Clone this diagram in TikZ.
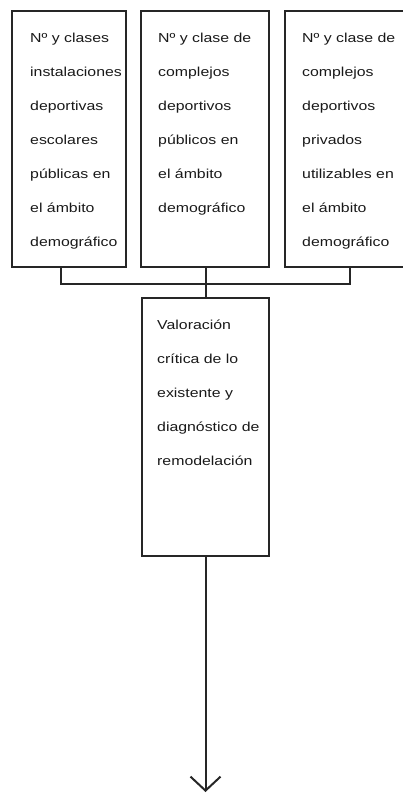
\documentclass[tikz,border=0pt]{standalone}
\usepackage{fontspec}
\setmainfont{Liberation Sans}
\newfontfamily\boxfont[FakeStretch=1.22]{Liberation Sans}
\usetikzlibrary{arrows.meta}
\begin{document}
\begin{tikzpicture}[x=1pt,y=1pt,
  frame/.style={draw=black!85, line width=2pt, rectangle, inner sep=0pt},
  txt/.style={anchor=north west, align=left, inner sep=0pt,
    font=\boxfont\fontsize{13}{34}\selectfont, text=black!90},
  wire/.style={draw=black!85, line width=2pt}]
\useasboundingbox (0,0) rectangle (403,-794);
\begin{scope}
\clip (0,0) rectangle (403,-794);
% source boxes
\node[frame, minimum width=114, minimum height=256] (b1) at (69,-139) {};
\node[frame, minimum width=128, minimum height=256] (b2) at (205,-139) {};
\node[frame, minimum width=128, minimum height=256] (b3) at (349,-139) {};
% assessment box
\node[frame, minimum width=127, minimum height=258] (b4) at (205.5,-427) {};
\end{scope}
% texts
\node[txt] (t1) at (30,-33) {Nº y clases\\instalaciones\\deportivas\\escolares\\públicas en\\el ámbito\\demográfico};
\node[txt] (t2) at (158,-33) {Nº y clase de\\complejos\\deportivos\\públicos en\\el ámbito\\demográfico};
\node[txt] (t3) at (302,-33) {Nº y clase de\\complejos\\deportivos\\privados\\utilizables en\\el ámbito\\demográfico};
\node[txt] (t4) at (157,-320) {Valoración\\crítica de lo\\existente y\\diagnóstico de\\remodelación};
% connectors
\coordinate (j1) at (61,-284);
\coordinate (j3) at (350,-284);
\coordinate (jc) at (205.5,-284);
\draw[wire] (b1.south -| j1) -- (j1) -- (j3) -- (b3.south -| j3);
\draw[wire] (b2.south -| jc) -- (b4.north);
\coordinate (end) at (205.5,-792);
\draw[wire, -{Straight Barb[length=14pt,width=30pt,line width=2pt]}] (b4.south) -- (end);
\end{tikzpicture}
\end{document}
